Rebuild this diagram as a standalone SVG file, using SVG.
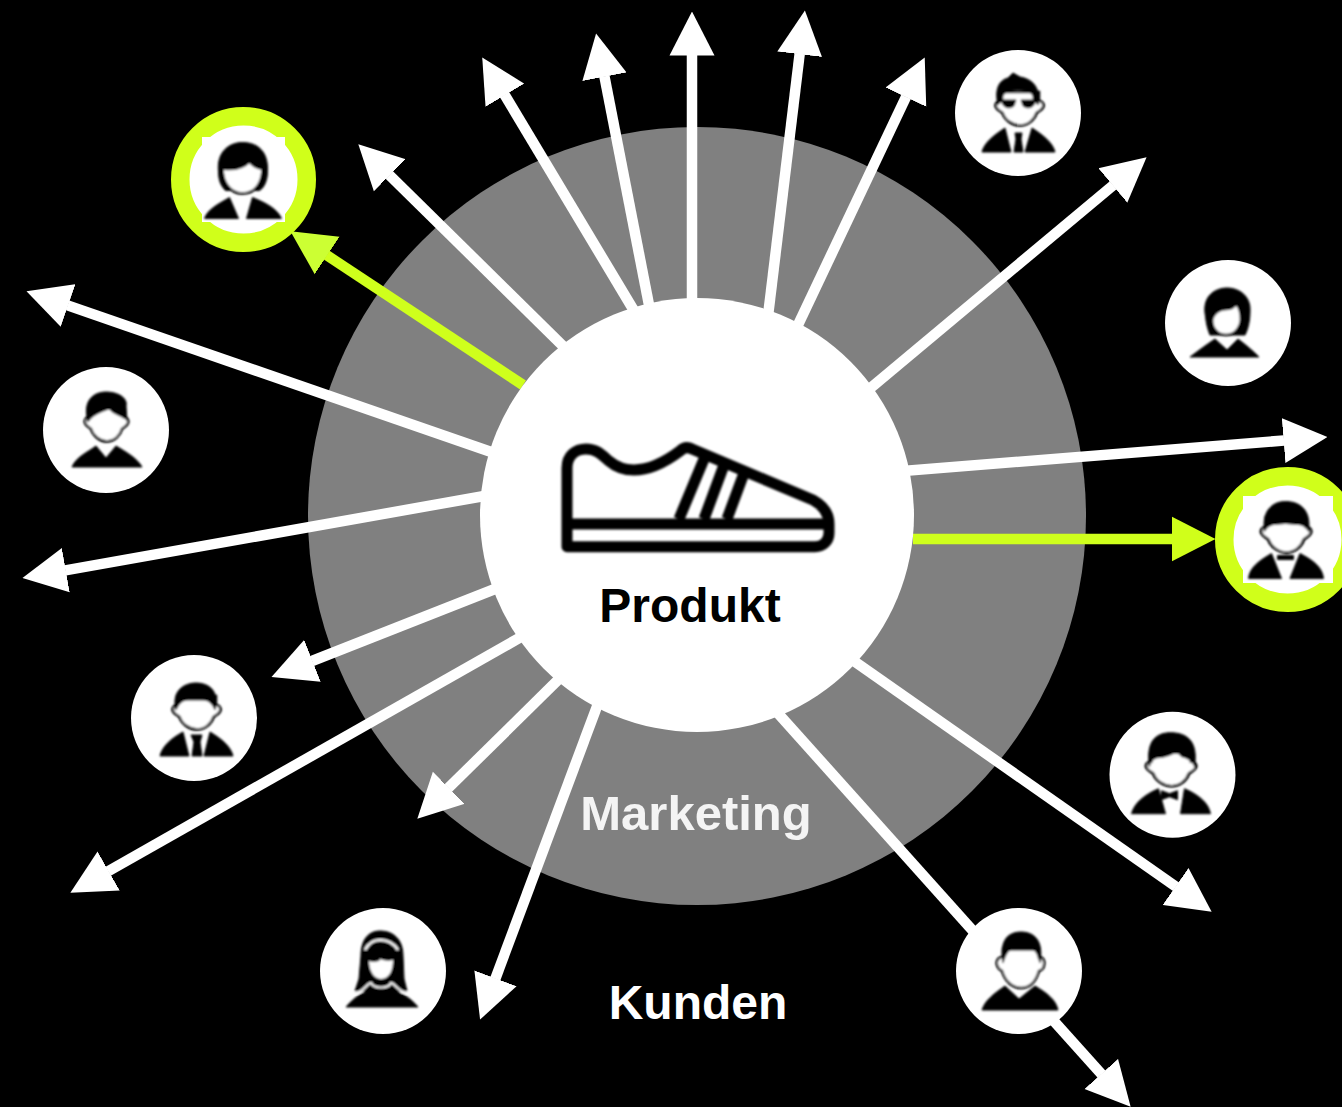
<svg xmlns="http://www.w3.org/2000/svg" width="1342" height="1107" viewBox="0 0 1342 1107">
<style>
.label{font-family:"Liberation Sans",Arial,sans-serif;font-weight:700;font-size:48px;text-anchor:middle}
.arrow{stroke:#fff;stroke-width:10.500;fill:none;marker-end:url(#head)}
.lime{stroke:#cfff1c;stroke-width:10.500;fill:none}
.disc{fill:#fff}
.ring{fill:#fff;stroke:#d0ff1a;stroke-width:18.5}
.k{fill:#000;stroke:#000;stroke-width:1;stroke-linejoin:round}
.f{fill:#fff;stroke:#000;stroke-width:2.600}
.w{fill:#fff}
.icon{filter:url(#soft)}
.shoe{fill:none;stroke:#000;stroke-width:11;stroke-linejoin:round}
</style>
<defs>
<marker id="head" markerUnits="userSpaceOnUse" viewBox="0 -23 44 46" markerWidth="44" markerHeight="46" refX="0.5" refY="0" orient="auto"><path d="M0,-22.5L44,0L0,22.5Z" fill="#fff"/></marker>
<marker id="headLime" markerUnits="userSpaceOnUse" viewBox="0 -23 44 46" markerWidth="44" markerHeight="46" refX="0.5" refY="0" orient="auto"><path d="M0,-22.5L44,0L0,22.5Z" fill="#d0ff1a"/></marker>
<marker id="headPale" markerUnits="userSpaceOnUse" viewBox="0 -23 44 46" markerWidth="44" markerHeight="46" refX="0.5" refY="0" orient="auto"><path d="M0,-22.5L44,0L0,22.5Z" fill="#ccff33"/></marker>
<filter id="soft" x="-10%" y="-10%" width="120%" height="120%"><feGaussianBlur stdDeviation="0.8"/></filter>
<path id="face" d="M-17,-22L-17,-13C-20,-13 -22,-10 -21,-7C-20,-4 -17,-3 -15,-1C-13,6 -6,11.500 1,11.500C8,11.500 14,6 16,-1C18,-3 21,-4 22,-7C23,-10 21,-13 18,-13L18,-22Z"/>
</defs>
<rect id="background" width="1342" height="1107" fill="#000"/>
<g id="marketing-ring"><circle cx="697" cy="516" r="389" fill="#808080"/></g>
<g id="connectors">
<line class="arrow" x1="566" y1="349" x2="389.3" y2="174.9"/>
<line class="arrow" x1="636" y1="314" x2="504.6" y2="94.8"/>
<line class="arrow" x1="650" y1="310" x2="604.4" y2="76.2"/>
<line class="arrow" x1="692" y1="305" x2="692" y2="55"/>
<line class="arrow" x1="768" y1="316" x2="799.7" y2="53.7"/>
<line class="arrow" x1="797" y1="327" x2="906.1" y2="96.7"/>
<line class="arrow" x1="867" y1="391" x2="1113.2" y2="185.2"/>
<line class="arrow" x1="903" y1="471" x2="1284.1" y2="440.5"/>
<line class="lime" x1="913" y1="539" x2="1172" y2="539" marker-end="url(#headLime)"/>
<line class="arrow" x1="851" y1="659" x2="1176" y2="886.7"/>
<line class="arrow" x1="775" y1="710" x2="1101.6" y2="1074.3"/>
<line class="arrow" x1="599" y1="701" x2="495.3" y2="978.8"/>
<line class="arrow" x1="561" y1="677" x2="448.3" y2="788.1"/>
<line class="arrow" x1="521" y1="637" x2="108.2" y2="871.3"/>
<line class="arrow" x1="500" y1="587" x2="312" y2="661"/>
<line class="arrow" x1="490" y1="495" x2="65.3" y2="570.3"/>
<line class="arrow" x1="497" y1="454" x2="67.6" y2="305.4"/>
<line class="lime" x1="523" y1="385" x2="326.7" y2="255.2" marker-end="url(#headPale)"/>
</g>
<g id="produkt">
<circle cx="697" cy="515" r="217" class="disc"/>
<g class="icon">
<path class="shoe" d="M567,546.7V468C567,455 576,449 586,449C597,449 602,455 609,461C616,467 624,470 634,470C652,470 668,460 680,451C684,447 688,447 692,449L813,500C824,506 829,514 829,524V533C829,541 823,546.7 815,546.7Z"/>
<path class="shoe" d="M567,524H829M705,456.7L679,519M724,465L704,519M743.3,475L727,519"/>
</g>
<text class="label" x="690" y="622" fill="#000">Produkt</text>
</g>
<g id="label-marketing"><text class="label" x="696" y="830" fill="#f4f4f4" style="font-size:49px">Marketing</text></g>
<g id="label-kunden"><text class="label" x="698" y="1019" fill="#fff">Kunden</text></g>
<g id="customer-top-left" transform="translate(243.500,179.500)">
<circle r="63.25" class="ring"/><rect x="-41.500" y="-42.500" width="83" height="85" class="w"/>
<g class="icon">
<path class="k" d="M-25,-8C-27,-28 -14,-37 -1,-37C14,-37 25,-28 24,-8C24,0 21,8 16,11L-18,11C-23,6 -25,0 -25,-8Z"/>
<path class="f" d="M-21,-11C-14,-10 -2,-10 6,-18C10,-13 15,-11 19,-11C19,0 14,14 -1,14C-14,14 -21,2 -21,-11Z"/>
<path class="k" d="M-39,39C-36,30 -26,25 -14,18L-5,39ZM3,39L9,18C24,24 34,30 38,39Z"/>
</g></g>
<g id="customer-right" transform="translate(1287.500,539.500)">
<circle r="63.25" class="ring"/><rect x="-44.500" y="-43.500" width="90" height="87" class="w"/>
<g class="icon">
<use href="#face" class="f" transform="translate(-2,1) scale(1.15,1.05)"/>
<path class="k" d="M-23,-8C-26,-30 -14,-38 -2,-38C12,-38 24,-30 21,-8C19,-12 15,-15 10,-15L-2,-16L-14,-15C-18,-14 -21,-12 -23,-8Z"/>
<path class="k" d="M-39,39C-38,28 -28,21 -16,14L-6,39ZM2.500,39L12.500,14C26,21 35,28 36,39ZM-10,16H6V20H-10Z"/>
</g></g>
<g id="customer-sunglasses" transform="translate(1018,113)">
<circle r="63" class="disc"/>
<g class="icon">
<use href="#face" class="f" transform="translate(1,1) scale(1.1,1)"/>
<path class="k" d="M-20,-8C-24,-25 -18,-33 -10,-35L-5,-40L2,-36C14,-34 23,-26 20,-8L15,-14C16,-18 13,-23 0,-23C-13,-23 -16,-18 -15,-14Z"/>
<path class="k" d="M-17,-13H-2L-4,-7C-8,-4 -13,-5 -15,-8ZM3,-13H18L16,-8C14,-5 9,-4 5,-7Z"/>
<path class="k" d="M-36,39C-34,30 -24,22 -13,15L-7,39ZM7,39L14,15C25,22 35,30 37,39ZM-3,20H4L3,26L5,39H-4L-2,26Z"/>
</g></g>
<g id="customer-woman-right" transform="translate(1228,323)">
<circle r="63" class="disc"/>
<g class="icon">
<path class="k" d="M-23,-10C-25,-28 -12,-35 -1,-35C12,-35 23,-26 22,-12C22,-2 20,6 17,12L-18,12C-22,2 -22,-4 -23,-10Z"/>
<path class="f" d="M-16,-3C-14,-11 -7,-14 -2,-14C2,-14 6,-16 8,-19C12,-16 13,-10 13,-3C12,6 6,12 -2,12C-10,12 -16,6 -16,-3Z"/>
<path class="k" d="M-38,34C-30,28 -22,22 -13,16L-1,27L10,16C18,22 25,28 31,34Z"/>
</g></g>
<g id="customer-left" transform="translate(106,430)">
<circle r="63" class="disc"/>
<g class="icon">
<use href="#face" class="f"/>
<path class="k" d="M-18,-8C-24,-30 -12,-38 0,-38C12,-38 22,-32 20,-24L21,-9C18,-14 8,-15 3,-21C-3,-19 -14,-15 -18,-8Z"/>
<path class="k" d="M-34,37C-30,27 -18,22 -10,16L0,28L10,16C20,22 31,28 36,37Z"/>
</g></g>
<g id="customer-tie" transform="translate(194,718)">
<circle r="63" class="disc"/>
<g class="icon">
<use href="#face" class="f" transform="translate(2,0) scale(1.1,1)"/>
<path class="k" d="M-18,-8C-23,-28 -9,-35 2,-35C14,-35 26,-28 21,-8C18,-15 14,-18 9,-18H-6C-11,-18 -15,-15 -18,-8Z"/>
<path class="k" d="M-34,38C-32,29 -24,21 -11,14L-5,38ZM10,38L16,14C28,21 37,29 39,38ZM-3,17H8L6,24L8,38H-2L0,24Z"/>
</g></g>
<g id="customer-bowtie" transform="translate(1172.500,774.700)">
<circle r="63" class="disc"/>
<g class="icon">
<use href="#face" class="f" transform="translate(-2,0) scale(1.15,1)"/>
<path class="k" d="M-23,-8C-27,-34 -16,-42 -2,-42C14,-42 26,-34 22,-8C20,-14 14,-17 9,-18L4,-23C-2,-19 -10,-17 -15,-17C-19,-16 -22,-13 -23,-8Z"/>
<path class="k" d="M-41,39C-38,28 -28,20 -14,14L-7,39ZM8,39L12,14C26,20 36,28 38,39ZM-11,16L-3,19L5,16V25L-3,22L-11,25Z"/>
</g></g>
<g id="customer-headband" transform="translate(383,971)">
<circle r="63" class="disc"/>
<g class="icon">
<path class="k" d="M-22,-15C-22,-32 -14,-40 -3,-40C10,-40 20,-32 20,-15L21,8L24,20H-28L-24,8Z"/>
<path d="M-18,-21C-14,-29 -8,-31 -3,-31C3,-31 10,-29 15,-21" fill="none" stroke="#fff" stroke-width="2.500"/>
<path class="w" d="M-14,-10C-8,-8 -2,-10 -3,-12C2,-10 6,-10 10,-11C10,-2 7,8 -2,8C-10,8 -14,-2 -14,-10Z"/>
<path d="M-28,22C-20,22 -16,12 -12,12C-9,18 5,18 8,12C12,12 14,20 24,22" fill="none" stroke="#fff" stroke-width="2"/>
<path class="k" d="M-37,36C-32,30 -27,26 -22,23C-16,22 -14,15 -11,15C-7,20 5,20 8,15C11,15 14,22 21,24C26,27 31,31 35,36Z"/>
</g></g>
<g id="customer-bottom" transform="translate(1019,971)">
<circle r="63" class="disc"/>
<g class="icon">
<path class="f" d="M-16,-14C-21,-14 -23,-10 -22,-6C-21,-2 -19,-1 -17,0C-14,10 -7,17 2,17C11,17 17,10 20,0C23,-1 25,-3 25,-6C26,-10 24,-14 20,-14L20,-22H-16Z"/>
<path class="k" d="M-16,-8C-20,-32 -10,-39 2,-39C14,-39 25,-32 21,-8C19,-14 18,-20 14,-21H-8C-12,-20 -14,-14 -16,-8Z"/>
<path class="k" d="M-37,39C-34,29 -24,22 -14,15L0,28L16,15C28,22 37,29 39,39Z"/>
</g></g>
</svg>
